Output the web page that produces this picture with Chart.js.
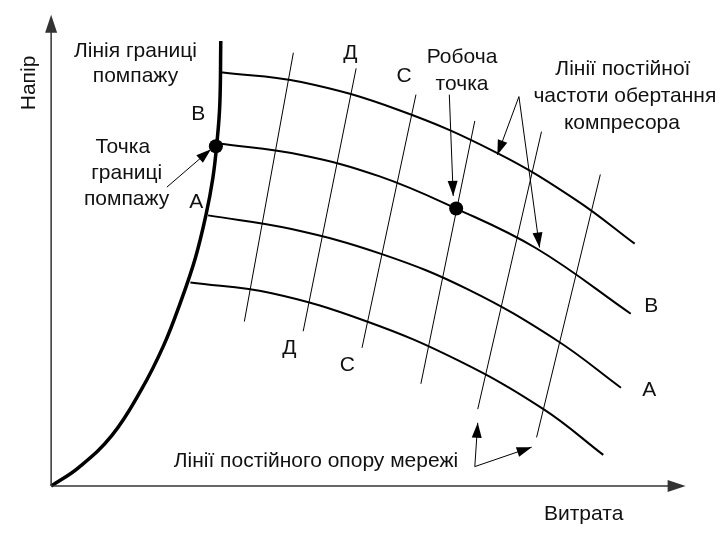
<!DOCTYPE html>
<html>
<head>
<meta charset="utf-8">
<script src="https://cdn.jsdelivr.net/npm/chart.js@4.4.1/dist/chart.umd.min.js"></script>
<style>
  html, body { margin: 0; padding: 0; background: #fff; }
  #wrap { width: 726px; height: 533px; }
</style>
</head>
<body>
<div id="wrap"><canvas id="surgeChart"></canvas></div>
<script>
// Q = flow (Витрата), H = head (Напір)
const surgeQ = [0, 28, 62, 92, 115, 132, 147, 158, 165, 169, 172, 173];
const surgeH = [0, 19, 52, 99, 145, 189, 234, 279, 317, 352, 392, 457];

// constant speed curves, top to bottom
const speedCurves = [
  { q: [173, 255, 355, 455, 535, 595], h: [425, 415, 386, 342, 294, 249] },
  { q: [169, 255, 335, 413, 495, 591], h: [352, 340, 318, 285, 244, 177] },
  { q: [160, 245, 338, 425, 515, 581], h: [278, 264, 238, 202, 150, 101] },
  { q: [142, 225, 322, 415, 502, 563], h: [209, 198, 169, 129, 79, 32] },
];

// constant network resistance lines: [q top, h top, q bottom, h bottom]
const networkLines = [
  [247, 445, 197, 169],
  [311, 429, 257, 159],
  [372, 402, 317, 142],
  [432, 375, 377, 105],
  [500, 364, 435, 79],
  [560, 320, 495, 50],
];

const surgePoint = { x: 168, y: 349 };
const workPoint = { x: 413, y: 285 };

// pointer arrows: [from q, from h, tip q, tip h]
const pointers = [
  [118, 307, 163, 346],
  [406, 402, 410, 298],
  [477, 400, 455, 340],
  [477, 400, 498, 245],
  [432, 20, 435, 65],
  [432, 20, 490, 40],
];

const axisEnds = { qMax: 647, hMax: 484 };

const captions = [
  ['Напір', -23, 414, -90],
  ['Витрата', 543, -28, 0],
  ['Лінія границі', 86, 448, 0],
  ['помпажу', 86, 422, 0],
  ['В', 150, 383, 0],
  ['А', 148, 293, 0],
  ['Точка', 73, 349, 0],
  ['границі', 77, 322, 0],
  ['помпажу', 77, 296, 0],
  ['Д', 305, 446, 0],
  ['С', 360, 422, 0],
  ['Робоча', 419, 441, 0],
  ['точка', 419, 414, 0],
  ['Лінії постійної', 583, 429, 0],
  ['частоти обертання', 585, 401, 0],
  ['компресора', 582, 374, 0],
  ['В', 612, 186, 0],
  ['А', 610, 99, 0],
  ['Д', 243, 143, 0],
  ['С', 302, 125, 0],
  ['Лінії постійного опору мережі', 270, 27, 0],
];

const toPts = (qs, hs) => qs.map((q, i) => ({ x: q, y: hs[i] }));

const datasets = [];

datasets.push({
  data: [{ x: 0, y: 0 }, { x: axisEnds.qMax - 14, y: 0 }],
  borderColor: '#333', borderWidth: 1.5, pointRadius: 0, showLine: true,
});
datasets.push({
  data: [{ x: 0, y: 0 }, { x: 0, y: axisEnds.hMax - 14 }],
  borderColor: '#333', borderWidth: 1.5, pointRadius: 0, showLine: true,
});

networkLines.forEach((l) => {
  datasets.push({
    data: [{ x: l[0], y: l[1] }, { x: l[2], y: l[3] }],
    borderColor: '#000', borderWidth: 1, pointRadius: 0, showLine: true,
  });
});

speedCurves.forEach((c) => {
  datasets.push({
    data: toPts(c.q, c.h),
    borderColor: '#000', borderWidth: 2, pointRadius: 0, showLine: true, tension: 0.4,
  });
});

datasets.push({
  data: toPts(surgeQ, surgeH),
  borderColor: '#000', borderWidth: 3.5, pointRadius: 0, showLine: true, tension: 0.4,
});

pointers.forEach((p) => {
  datasets.push({
    data: [{ x: p[0], y: p[1] }, { x: p[2], y: p[3] }],
    borderColor: '#000', borderWidth: 1, pointRadius: 0, showLine: true,
  });
});

datasets.push({
  data: [surgePoint, workPoint],
  showLine: false, pointRadius: 7, backgroundColor: '#000', borderColor: '#000', borderWidth: 0,
});

function arrowHead(ctx, x0, y0, x1, y1, len, half) {
  const a = Math.atan2(y1 - y0, x1 - x0);
  ctx.beginPath();
  ctx.moveTo(x1, y1);
  ctx.lineTo(x1 - len * Math.cos(a) + half * Math.sin(a), y1 - len * Math.sin(a) - half * Math.cos(a));
  ctx.lineTo(x1 - len * Math.cos(a) - half * Math.sin(a), y1 - len * Math.sin(a) + half * Math.cos(a));
  ctx.closePath();
  ctx.fill();
}

const overlay = {
  id: 'overlay',
  afterDatasetsDraw(chart) {
    const { ctx, scales } = chart;
    const px = (q) => scales.x.getPixelForValue(q);
    const py = (h) => scales.y.getPixelForValue(h);
    ctx.save();

    ctx.fillStyle = '#333';
    arrowHead(ctx, px(0), py(0), px(axisEnds.qMax), py(0), 18, 6);
    arrowHead(ctx, px(0), py(0), px(0), py(axisEnds.hMax), 18, 6);

    ctx.fillStyle = '#000';
    pointers.forEach((p) => arrowHead(ctx, px(p[0]), py(p[1]), px(p[2]), py(p[3]), 15, 5));

    ctx.font = '21px "Liberation Sans", Arial, sans-serif';
    ctx.textAlign = 'center';
    ctx.textBaseline = 'middle';
    ctx.fillStyle = '#111';
    captions.forEach(([t, q, h, rot]) => {
      ctx.save();
      ctx.translate(px(q), py(h));
      ctx.rotate((rot * Math.PI) / 180);
      ctx.fillText(t, 0, 1);
      ctx.restore();
    });
    ctx.restore();
  },
};

new Chart(document.getElementById('surgeChart'), {
  type: 'scatter',
  data: { datasets },
  options: {
    responsive: true,
    maintainAspectRatio: false,
    animation: false,
    layout: { padding: 0 },
    plugins: { legend: { display: false }, tooltip: { enabled: false } },
    scales: {
      x: { type: 'linear', min: -45, max: 681, display: false },
      y: { type: 'linear', min: -41, max: 492, display: false },
    },
  },
  plugins: [overlay],
});
</script>
</body>
</html>
